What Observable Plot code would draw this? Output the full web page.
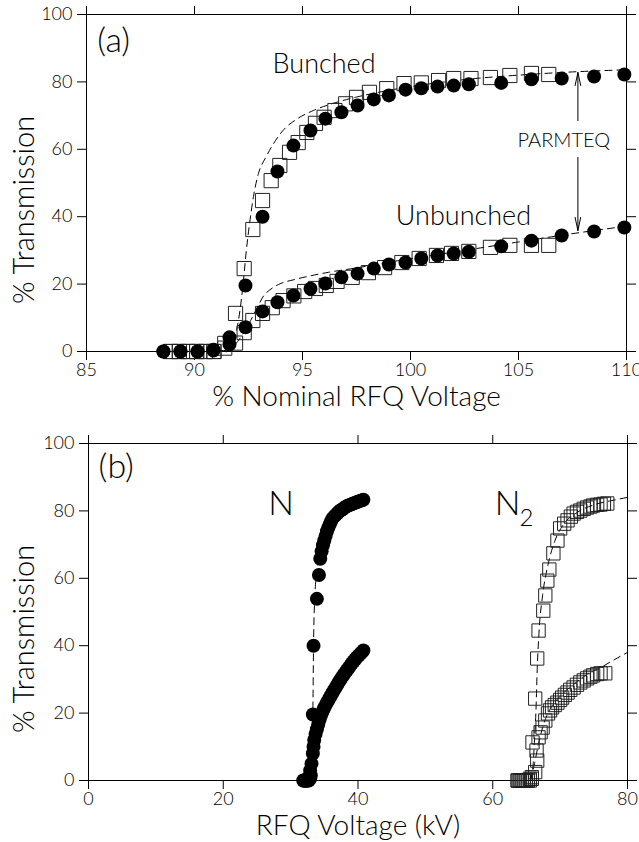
<!DOCTYPE html>
<html><head><meta charset="utf-8">
<script src="https://cdn.jsdelivr.net/npm/d3@7"></script>
<script src="https://cdn.jsdelivr.net/npm/@observablehq/plot@0.6"></script>
<style>
body{margin:0;background:#fff;}
#chart{width:639px;}
#chart svg{display:block;}
</style></head><body><div id="chart"></div>
<script>
// ---------- Panel (a): % Nominal RFQ Voltage ----------
const aCircleX = [88.56, 89.35, 90.14, 90.88, 91.62, 92.36, 93.15, 93.84, 94.58, 95.37, 96.06, 96.8, 97.55, 98.3, 99.0, 99.77, 100.5, 101.25, 102.0, 102.7, 104.2, 105.6, 107.0, 108.5, 109.9];
const aBunchedCircleY = [0, 0, 0, 0.5, 4.2, 19.6, 40.0, 53.4, 61.1, 65.6, 69.1, 71.0, 73.0, 74.8, 76.0, 77.7, 78.1, 78.6, 78.9, 79.3, 79.7, 80.8, 81.0, 81.6, 82.2];
const aUnbunchedCircleY = [0, 0, 0, 0.3, 2.1, 7.2, 11.9, 14.6, 16.6, 18.6, 20.2, 22.0, 23.1, 24.6, 25.8, 26.4, 27.6, 28.5, 29.1, 29.6, 31.2, 32.9, 34.4, 35.6, 36.8];

const aBunchedSquareX = [88.9, 89.3, 89.7, 90.1, 90.5, 90.9, 91.4, 91.9, 92.3, 92.7, 93.15, 93.55, 93.95, 94.4, 94.8, 95.2, 95.6, 96.0, 96.5, 97.0, 97.5, 98.1, 98.9, 99.7, 100.5, 101.3, 102.0, 102.8, 103.7, 104.6, 105.6, 106.4];
const aBunchedSquareY = [0, 0, 0, 0, 0, 0, 2.4, 11.3, 24.6, 36.2, 44.8, 50.7, 55.2, 59.1, 62.0, 65.0, 67.7, 69.5, 71.5, 73.5, 75.4, 76.9, 78.0, 79.5, 79.7, 80.4, 81.0, 81.0, 81.3, 81.9, 82.5, 82.2];
const aUnbunchedSquareX = [88.9, 89.3, 89.7, 90.1, 90.5, 90.9, 91.4, 91.9, 92.3, 92.7, 93.15, 93.6, 94.1, 94.6, 95.1, 95.6, 96.1, 96.6, 97.3, 98.05, 98.8, 99.6, 100.4, 101.2, 101.9, 102.7, 103.7, 104.6, 105.6, 106.4];
const aUnbunchedSquareY = [0, 0, 0, 0, 0, 0, 1.0, 2.5, 5.6, 9.2, 11.3, 13.0, 15.1, 16.5, 17.8, 18.7, 19.6, 20.8, 22.0, 23.4, 24.9, 26.4, 27.6, 28.5, 29.1, 29.7, 30.9, 31.5, 31.5, 31.5];

// PARMTEQ simulation curves (dashed)
const aParmBunchedX = [91.5, 91.9, 92.1, 92.25, 92.4, 92.55, 92.73, 92.96, 93.3, 93.66, 94.1, 94.77, 95.5, 96.4, 97.5, 99.0, 101.0, 103.0, 105.0, 107.0, 110.0];
const aParmBunchedY = [0, 5, 12, 20, 30, 38, 46, 52.8, 57.6, 61.7, 65.6, 69.1, 71.5, 73.6, 75.5, 77.5, 79.5, 81.0, 82.0, 82.8, 83.6];
const aParmUnbunchedX = [91.5, 92.0, 92.5, 92.9, 93.2, 93.6, 94.0, 94.6, 95.4, 96.2, 97.5, 99.0, 101.0, 103.0, 105.0, 107.0, 110.0];
const aParmUnbunchedY = [0, 3, 8, 13, 16.5, 18.8, 20.2, 21.3, 22.5, 23.5, 24.8, 26.5, 28.5, 30.5, 32.5, 34.5, 37.2];

const aTicksX = [85, 90, 95, 100, 105, 110];
const yTicks = [0, 20, 40, 60, 80, 100];

// ---------- Panel (b): RFQ Voltage (kV) ----------
const bNUpperX = [31.9, 32.1, 32.3, 32.5, 32.7, 32.9, 33.0, 33.3, 33.4, 33.9, 34.2, 34.4, 34.6, 34.8, 35.0, 35.2, 35.4, 35.6, 35.8, 36.0, 36.2, 36.45, 36.7, 36.95, 37.2, 37.45, 37.7, 37.95, 38.2, 38.45, 38.7, 38.95, 39.2, 39.45, 39.7, 39.95, 40.2, 40.5, 40.8];
const bNUpperY = [0, 0, 0, 0, 0, 0.5, 1.5, 19.6, 40.0, 53.9, 61.0, 65.8, 68.0, 69.8, 71.2, 72.6, 74.0, 75.0, 76.0, 76.9, 77.7, 78.3, 78.8, 79.3, 79.8, 80.2, 80.5, 80.9, 81.2, 81.5, 81.7, 81.9, 82.1, 82.3, 82.5, 82.7, 82.9, 83.1, 83.3];
const bNLowerX = [31.9, 32.1, 32.3, 32.5, 32.7, 32.9, 33.1, 33.3, 33.4, 33.5, 33.7, 33.9, 34.1, 34.3, 34.5, 34.7, 34.9, 35.1, 35.35, 35.6, 35.85, 36.1, 36.35, 36.6, 36.85, 37.1, 37.35, 37.6, 37.85, 38.1, 38.35, 38.6, 38.85, 39.1, 39.35, 39.6, 39.85, 40.1, 40.35, 40.6, 40.8];
const bNLowerY = [0, 0, 0, 0, 1, 3, 5, 8, 10, 12, 13.8, 15.2, 16.6, 18, 19.3, 20.3, 21.2, 22, 23, 23.8, 24.7, 25.6, 26.5, 27.3, 28.1, 29, 29.8, 30.6, 31.3, 32.0, 32.7, 33.4, 34.1, 34.8, 35.4, 36.0, 36.6, 37.1, 37.6, 38.1, 38.6];

const bN2UpperX = [63.7, 64.0, 64.3, 64.6, 64.9, 65.2, 65.5, 65.8, 65.9, 66.3, 66.6, 66.8, 67.5, 67.8, 68.1, 68.4, 69.0, 69.6, 70.0, 70.6, 71.1, 71.6, 72.0, 72.5, 73.0, 73.5, 74.0, 74.5, 74.9, 75.5, 76.0, 76.5, 77.0];
const bN2UpperY = [0, 0, 0, 0, 0, 0, 0.5, 1, 11.3, 24.3, 36.2, 44.5, 50.4, 54.9, 59.3, 62.6, 67.4, 71.2, 74.8, 76.2, 77.2, 78.3, 79.2, 79.7, 80.1, 80.6, 81.0, 81.3, 81.6, 81.8, 81.9, 82.1, 82.2];
const bN2LowerX = [63.7, 64.0, 64.3, 64.6, 64.9, 65.2, 65.5, 65.8, 66.3, 66.6, 66.5, 66.8, 67.1, 67.4, 67.8, 68.2, 68.5, 68.8, 69.2, 69.6, 70.0, 70.3, 70.7, 71.1, 71.5, 72.0, 72.5, 73.0, 73.5, 74.0, 74.5, 74.9, 75.5, 76.0, 76.7];
const bN2LowerY = [0, 0, 0, 0, 0, 0, 0, 0.5, 2.5, 5.9, 8.9, 12.8, 14.3, 15.7, 17.8, 19.9, 20.8, 21.7, 22.4, 23.1, 23.9, 24.6, 25.4, 26.1, 26.9, 27.6, 28.4, 29.1, 29.7, 30.3, 30.8, 31.2, 31.6, 31.8, 31.8];

const bParmNUpperX = [32.6, 33.0, 33.2, 33.3, 33.4, 33.6, 33.9, 34.4, 35.5, 37.0, 39.0, 41.0];
const bParmNUpperY = [0, 5, 12, 20, 40, 55, 62, 68, 74, 78, 81, 83];
const bParmNLowerX = [32.6, 33.2, 33.6, 34.2, 35.0, 37.0, 39.0, 41.0];
const bParmNLowerY = [0, 5, 12, 17, 21, 26, 32, 37];
const bParmN2UpperX = [65.6, 66.0, 66.2, 66.4, 66.6, 66.9, 67.4, 68.2, 69.2, 70.5, 72.5, 75.0, 77.5, 80.0];
const bParmN2UpperY = [0, 5, 12, 20, 33, 45, 55, 64, 71, 76, 79.5, 81.8, 83, 84];
const bParmN2LowerX = [65.6, 66.2, 66.8, 67.6, 68.6, 70.0, 72.0, 74.0, 76.0, 78.0, 80.0];
const bParmN2LowerY = [0, 5, 11, 17, 21.5, 25, 28.5, 31.5, 33.5, 35.8, 38];

const bTicksX = [0, 20, 40, 60, 80];

// annotations (text and data-space anchor)
const aNotes = [
  {text: "(a)", x: 85.5, y: 92, size: 34, anchor: "start"},
  {text: "Bunched", x: 96.0, y: 85.2, size: 27, anchor: "middle"},
  {text: "Unbunched", x: 102.45, y: 40.0, size: 27, anchor: "middle"},
  {text: "PARMTEQ", x: 107.1, y: 62.6, size: 20, anchor: "middle"}
];
const aArrows = [
  {x1: 107.75, y1: 68.5, x2: 107.75, y2: 82.8},
  {x1: 107.75, y1: 57.6, x2: 107.75, y2: 35.9}
];
const bNotes = [
  {text: "(b)", x: 1.5, y: 92.9, size: 34, anchor: "start"},
  {text: "N", x: 28.6, y: 81.9, size: 34, anchor: "middle"},
  {text: "N", x: 62.2, y: 81.9, size: 34, anchor: "middle"},
  {text: "2", x: 65.0, y: 77.8, size: 24, anchor: "middle"}
];

const zip = (xs, ys) => xs.map((x, i) => ({x, y: ys[i]}));
const FONT = "Lato, 'DejaVu Sans', sans-serif";
const dash = {stroke: "black", strokeWidth: 1, strokeDasharray: "7,5", curve: "monotone-x"};
const sq = {symbol: "square", r: 8, stroke: "#222", fill: "none", strokeWidth: 1};
const ci = {symbol: "circle", r: 7, fill: "black"};

function axes(ticks) {
  return [
    Plot.frame({stroke: "black", strokeWidth: 1}),
    Plot.axisX({anchor: "bottom", ticks, tickSize: 9, tickPadding: 3, label: null, tickFormat: d => String(d)}),
    Plot.axisX({anchor: "top", ticks, tickSize: 9, label: null, tickFormat: () => ""}),
    Plot.axisY({anchor: "left", ticks: yTicks, tickSize: 9, tickPadding: 5, label: null, tickFormat: d => String(d)}),
    Plot.axisY({anchor: "right", ticks: yTicks, tickSize: 9, label: null, tickFormat: () => ""})
  ];
}
function notes(arr) {
  return arr.map(n => Plot.text([n], {x: "x", y: "y", text: "text", fontSize: n.size, textAnchor: n.anchor, lineAnchor: "middle", fill: "black"}));
}
function titles(yTitleDx, xTitle) {
  return [
    Plot.text(["% Transmission"], {frameAnchor: "left", rotate: -90, textAnchor: "middle", lineAnchor: "middle", dx: yTitleDx, dy: 27, fontSize: 29, fill: "black"}),
    Plot.text([xTitle], {frameAnchor: "bottom", textAnchor: "middle", lineAnchor: "middle", dy: 46, fontSize: 28, fill: "black"})
  ];
}

const plotA = Plot.plot({
  width: 639, height: 420,
  marginLeft: 86, marginRight: 13, marginTop: 14, marginBottom: 69,
  x: {domain: [85, 110]},
  y: {domain: [0, 100]},
  style: {fontFamily: FONT, fontSize: "18px", fontWeight: 300, color: "black", background: "white"},
  marks: [
    ...axes(aTicksX),
    ...titles(-62, "% Nominal RFQ Voltage"),
    Plot.line(zip(aParmBunchedX, aParmBunchedY), {x: "x", y: "y", ...dash}),
    Plot.line(zip(aParmUnbunchedX, aParmUnbunchedY), {x: "x", y: "y", ...dash}),
    Plot.dot(zip(aBunchedSquareX, aBunchedSquareY), {x: "x", y: "y", ...sq}),
    Plot.dot(zip(aUnbunchedSquareX, aUnbunchedSquareY), {x: "x", y: "y", ...sq}),
    Plot.dot(zip(aCircleX, aBunchedCircleY), {x: "x", y: "y", ...ci}),
    Plot.dot(zip(aCircleX, aUnbunchedCircleY), {x: "x", y: "y", ...ci}),
    Plot.arrow(aArrows, {x1: "x1", y1: "y1", x2: "x2", y2: "y2", stroke: "black", strokeWidth: 1, headLength: 20, headAngle: 24}),
    ...notes(aNotes)
  ]
});

const plotB = Plot.plot({
  width: 639, height: 422,
  marginLeft: 88, marginRight: 12, marginTop: 23, marginBottom: 62,
  x: {domain: [0, 80]},
  y: {domain: [0, 100]},
  style: {fontFamily: FONT, fontSize: "18px", fontWeight: 300, color: "black", background: "white"},
  marks: [
    ...axes(bTicksX),
    ...titles(-64, "RFQ Voltage (kV)"),
    Plot.line(zip(bParmNUpperX, bParmNUpperY), {x: "x", y: "y", ...dash}),
    Plot.line(zip(bParmNLowerX, bParmNLowerY), {x: "x", y: "y", ...dash}),
    Plot.line(zip(bParmN2UpperX, bParmN2UpperY), {x: "x", y: "y", ...dash}),
    Plot.line(zip(bParmN2LowerX, bParmN2LowerY), {x: "x", y: "y", ...dash}),
    Plot.dot(zip(bN2UpperX, bN2UpperY), {x: "x", y: "y", ...sq, r: 7.5}),
    Plot.dot(zip(bN2LowerX, bN2LowerY), {x: "x", y: "y", ...sq, r: 7.5}),
    Plot.dot(zip(bNUpperX, bNUpperY), {x: "x", y: "y", ...ci}),
    Plot.dot(zip(bNLowerX, bNLowerY), {x: "x", y: "y", ...ci}),
    ...notes(bNotes)
  ]
});

document.getElementById("chart").append(plotA, plotB);
</script>
</body></html>
